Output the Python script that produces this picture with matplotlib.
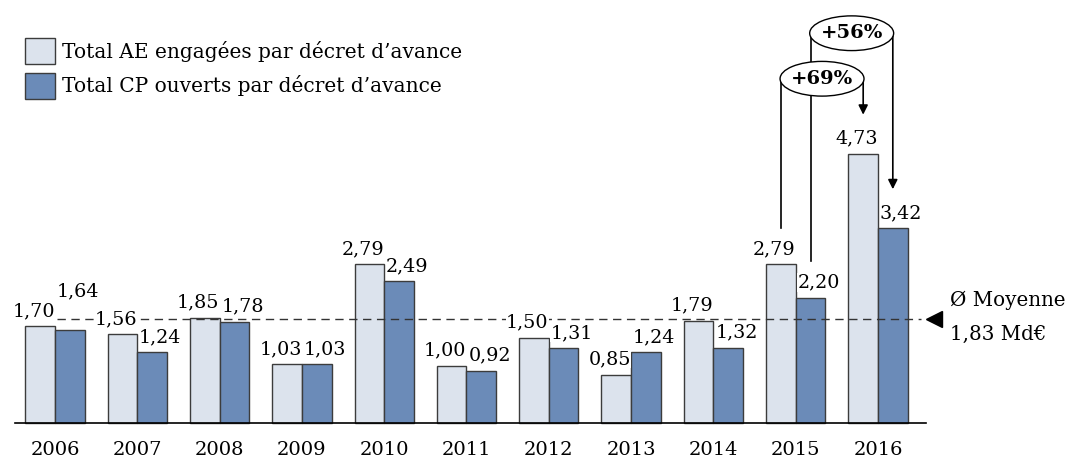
import numpy as np
import matplotlib
matplotlib.use('Agg')
import matplotlib.pyplot as plt
from matplotlib.patches import Patch, Ellipse

years = ['2006', '2007', '2008', '2009', '2010', '2011', '2012', '2013', '2014', '2015', '2016']
ae = [1.70, 1.56, 1.85, 1.03, 2.79, 1.00, 1.50, 0.85, 1.79, 2.79, 4.73]
cp = [1.64, 1.24, 1.78, 1.03, 2.49, 0.92, 1.31, 1.24, 1.32, 2.20, 3.42]
moyenne = 1.83
ae_label = 'Total AE engagées par décret d\u2019avance'
cp_label = 'Total CP ouverts par décret d\u2019avance'

c_ae = '#dce3ed'
c_cp = '#6b8bb8'
c_edge = '#3c3c3c'

plt.rcParams['font.family'] = ['DejaVu Serif']
fs = 13.8

fig = plt.figure(figsize=(10.71, 4.62), dpi=100)
ax = fig.add_axes([0, 0, 1, 1])
ax.set_xlim(-0.668, 12.345)
ax.set_ylim(-0.685, 7.434)
ax.axis('off')

x = np.arange(len(years))
w = 0.36
ax.bar(x - w/2, ae, w, color=c_ae, edgecolor=c_edge, linewidth=1, zorder=2)
ax.bar(x + w/2, cp, w, color=c_cp, edgecolor=c_edge, linewidth=1, zorder=2)

# baseline + year labels
ax.plot([-0.486, 10.58], [0, 0], color='black', lw=1.2, zorder=3)
for xi, yr in zip(x, years):
    ax.text(xi, -0.475, yr, ha='center', va='center', fontsize=14)

# average line
ax.plot([0.02, 10.52], [moyenne, moyenne], ls=(0, (6, 4)), color='#333333', lw=1, zorder=3)
ax.plot([10.68], [moyenne], marker='<', color='black', markersize=11, zorder=4)
ax.text(10.88, moyenne + 0.33, '\u00d8 Moyenne', ha='left', va='center', fontsize=14.3)
ax.text(10.88, moyenne - 0.28, '1,83 Md\u20ac', ha='left', va='center', fontsize=14.3)

# value labels
bb = dict(facecolor='white', edgecolor='none', pad=0.1)
lift = 0.27
for i in range(len(years)):
    ax.text(x[i] - w/2 - 0.08, ae[i] + lift, f'{ae[i]:.2f}'.replace('.', ','),
            ha='center', va='center', fontsize=fs, bbox=bb, zorder=5)
    extra = 0.4 if i == 0 else 0
    ax.text(x[i] + w/2 + 0.1, cp[i] + lift + extra, f'{cp[i]:.2f}'.replace('.', ','),
            ha='center', va='center', fontsize=fs, bbox=bb, zorder=5)

# growth annotations 2015 -> 2016
i0, i1 = 9, 10
gap = 0.64
for (xa, ya, xb, yb, cy, txt) in [
        (x[i0] - w/2, ae[i0], x[i1] - w/2, ae[i1], 6.05, '+69%'),
        (x[i0] + w/2, cp[i0], x[i1] + w/2, cp[i1], 6.85, '+56%')]:
    ax.plot([xa, xa], [ya + gap, cy], color='black', lw=1.2, zorder=6 if txt == '+69%' else 5)
    ax.annotate('', xy=(xb, yb + gap), xytext=(xb, cy),
                arrowprops=dict(arrowstyle='-|>', color='black', lw=1.2, mutation_scale=14),
                zorder=6 if txt == '+69%' else 5)
    z = 7 if txt == '+69%' else 5.5
    ax.add_patch(Ellipse(((xa + xb) / 2, cy), 1.02, 0.61, facecolor='white',
                         edgecolor='black', lw=1, zorder=z))
    ax.text((xa + xb) / 2, cy, txt, ha='center', va='center', fontsize=14,
            fontweight='bold', zorder=z + 0.1)

handles = [Patch(facecolor=c_ae, edgecolor=c_edge), Patch(facecolor=c_cp, edgecolor=c_edge)]
fig.legend(handles, [ae_label, cp_label], loc='upper left',
           bbox_to_anchor=(25/1071, 1 - 38/462), frameon=False, fontsize=14.5,
           handlelength=1.5, handleheight=1.6, handletextpad=0.35,
           labelspacing=0.45, borderpad=0, borderaxespad=0)

fig.savefig('out.png', dpi=100)
